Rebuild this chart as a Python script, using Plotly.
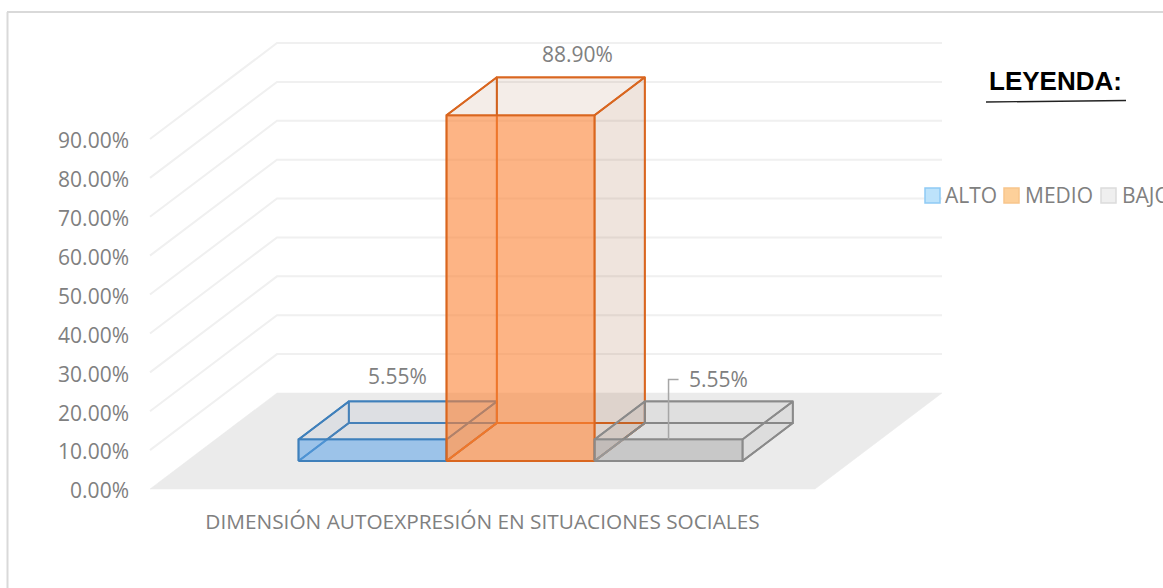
import plotly.graph_objects as go

# ---- data ----
categories = ["ALTO", "MEDIO", "BAJO"]
values = [5.55, 88.90, 5.55]
value_labels = ["5.55%", "88.90%", "5.55%"]
axis_ticks = [0, 10, 20, 30, 40, 50, 60, 70, 80, 90]
axis_labels = ["%.2f%%" % t for t in axis_ticks]
group_label = "DIMENSIÓN AUTOEXPRESIÓN EN SITUACIONES SOCIALES"

# ---- styles ----
W, H = 1163, 588
X0_PX, X1_PX = 150, 815       # front floor edge
Y0_PX, PX_PER_UNIT = 489, 350 / 90
DX = 127 / 665                # oblique shift for the full floor depth (axis units)
DY = 96 / PX_PER_UNIT
FONT = "Open Sans"
GREY = "#808080"
NOFILL = "rgba(0,0,0,0)"
edge = {"ALTO": "#3f80bb", "MEDIO": "#d9661f", "BAJO": "#8a8a8a"}
front = {"ALTO": "rgba(91,162,231,.55)", "MEDIO": "rgba(252,130,52,.6)", "BAJO": "rgba(165,165,165,.5)"}
pale = {"ALTO": "rgba(120,140,170,.12)", "MEDIO": "rgba(145,75,25,.10)", "BAJO": "rgba(120,120,120,.10)"}
side = {"ALTO": "rgba(120,140,170,.16)", "MEDIO": "rgba(145,75,25,.15)", "BAJO": "rgba(120,120,120,.12)"}
swatch = {"ALTO": ("#bde3fb", "#8fcaf5"), "MEDIO": ("#fdd09a", "#f8c58c"), "BAJO": ("#efefef", "#dcdcdc")}
BAR_W = 148 / 665
GAP = 111.5 / 665
D0, D1 = 28 / 96, 66 / 96     # bar depth span on the floor


def P(x, d, v):
    """Oblique projection of (position, depth, value) into axis coordinates."""
    return x + d * DX, v + d * DY


def poly(pts):
    pts = list(pts) + [pts[0]]
    return [p[0] for p in pts], [p[1] for p in pts]


fig = go.Figure()


def face(pts, fill, line, width=1.8):
    xs, ys = poly(pts)
    fig.add_trace(go.Scatter(x=xs, y=ys, mode="lines", fill="toself", fillcolor=fill,
                             line=dict(color=line, width=width), hoverinfo="skip", showlegend=False))


def seg(xs, ys, color, width):
    fig.add_trace(go.Scatter(x=xs, y=ys, mode="lines", line=dict(color=color, width=width),
                             hoverinfo="skip", showlegend=False))


# floor
face([P(0, 0, 0), P(1, 0, 0), P(1, 1, 0), P(0, 1, 0)], "#ebebeb", "#ebebeb", 0.5)

# walls' gridlines
for t in axis_ticks[1:]:
    a, b, c = P(0, 0, t), P(0, 1, t), P(1, 1, t)
    seg([a[0], b[0], c[0]], [a[1], b[1], c[1]], "#f0f0f0", 2)

# bars
for i, (cat, v) in enumerate(zip(categories, values)):
    x0 = GAP + i * BAR_W
    x1 = x0 + BAR_W
    e = edge[cat]
    face([P(x0, D0, 0), P(x1, D0, 0), P(x1, D1, 0), P(x0, D1, 0)], NOFILL, e)            # bottom
    face([P(x0, D1, 0), P(x1, D1, 0), P(x1, D1, v), P(x0, D1, v)], NOFILL, e)            # back
    face([P(x0, D0, 0), P(x0, D1, 0), P(x0, D1, v), P(x0, D0, v)], NOFILL, e)            # left
    face([P(x0, D0, v), P(x1, D0, v), P(x1, D1, v), P(x0, D1, v)], pale[cat], e)         # top
    face([P(x1, D0, 0), P(x1, D1, 0), P(x1, D1, v), P(x1, D0, v)], side[cat], e)         # right
    face([P(x0, D0, 0), P(x1, D0, 0), P(x1, D0, v), P(x0, D0, v)], front[cat], e)        # front

# data labels, offset from the back-top centre of each bar
offsets = [(-25, 25), (7, 23), (0, 22)]
annotations = []
for i, (lab, v) in enumerate(zip(value_labels, values)):
    cx = GAP + (i + 0.5) * BAR_W
    px, py = P(cx, D1, v)
    annotations.append(dict(x=px, y=py, text=lab, showarrow=False, xshift=offsets[i][0], yshift=offsets[i][1],
                            font=dict(family=FONT, size=21, color=GREY)))

# leader line of the last label
cx = GAP + 2.5 * BAR_W
lx, ly = P(cx, D0, values[2])
top = ly + 60 / PX_PER_UNIT
seg([lx, lx, lx + 10 / 665], [ly, top, top], "#a6a6a6", 1.5)

# legend: runs off the right edge of the picture, as in the reference
leg_x = [924, 1003, 1100]
text_x = [943, 1023, 1120]
for cat, px, tx in zip(categories, leg_x, text_x):
    fill, line = swatch[cat]
    fig.add_shape(type="rect", xref="paper", yref="paper", x0=(px + 1) / W, x1=(px + 16) / W,
                  y0=1 - 203 / H, y1=1 - 188 / H, fillcolor=fill, line=dict(color=line, width=1.5))
    annotations.append(dict(xref="paper", yref="paper", x=tx / W, y=1 - 194.5 / H, text=cat, showarrow=False,
                            xanchor="left", yanchor="middle", font=dict(family=FONT, size=21, color=GREY)))

annotations.append(dict(xref="paper", yref="paper", x=1055 / W, y=1 - 81 / H, text="<b>LEYENDA:</b>", showarrow=False,
                        xanchor="center", yanchor="middle",
                        font=dict(family="Liberation Sans", size=26, color="#000000")))

# underline and outer frame
fig.add_shape(type="line", xref="paper", yref="paper", x0=986 / W, x1=1126 / W, y0=1 - 102 / H, y1=1 - 100.5 / H,
              line=dict(color="#222222", width=1.4))
fig.add_shape(type="line", xref="paper", yref="paper", x0=7 / W, x1=1, y0=1 - 12 / H, y1=1 - 12 / H,
              line=dict(color="#d9d9d9", width=2))
fig.add_shape(type="line", xref="paper", yref="paper", x0=7.5 / W, x1=7.5 / W, y0=0, y1=1 - 12 / H,
              line=dict(color="#d9d9d9", width=2))

fig.update_layout(
    width=W, height=H, autosize=False, showlegend=False,
    margin=dict(l=0, r=0, t=0, b=0),
    paper_bgcolor="white", plot_bgcolor="white",
    annotations=annotations,
    xaxis=dict(range=[(0 - X0_PX) / 665, (W - X0_PX) / 665], anchor="free", position=1 - 507 / H,
               tickmode="array", tickvals=[0.5], ticktext=[group_label], ticks="", showgrid=False,
               zeroline=False, showline=False, tickfont=dict(family=FONT, size=20.8, color=GREY)),
    yaxis=dict(range=[(Y0_PX - H) / PX_PER_UNIT, Y0_PX / PX_PER_UNIT], anchor="free", position=129 / W,
               tickmode="array", tickvals=axis_ticks, ticktext=axis_labels, ticks="", showgrid=False,
               ticklabelshift=2, ticklabelposition="outside",
               zeroline=False, showline=False, tickfont=dict(family=FONT, size=21, color=GREY)),
)
fig.write_html("out.html", config={"displayModeBar": False}, post_script="document.body.style.margin='0';")
